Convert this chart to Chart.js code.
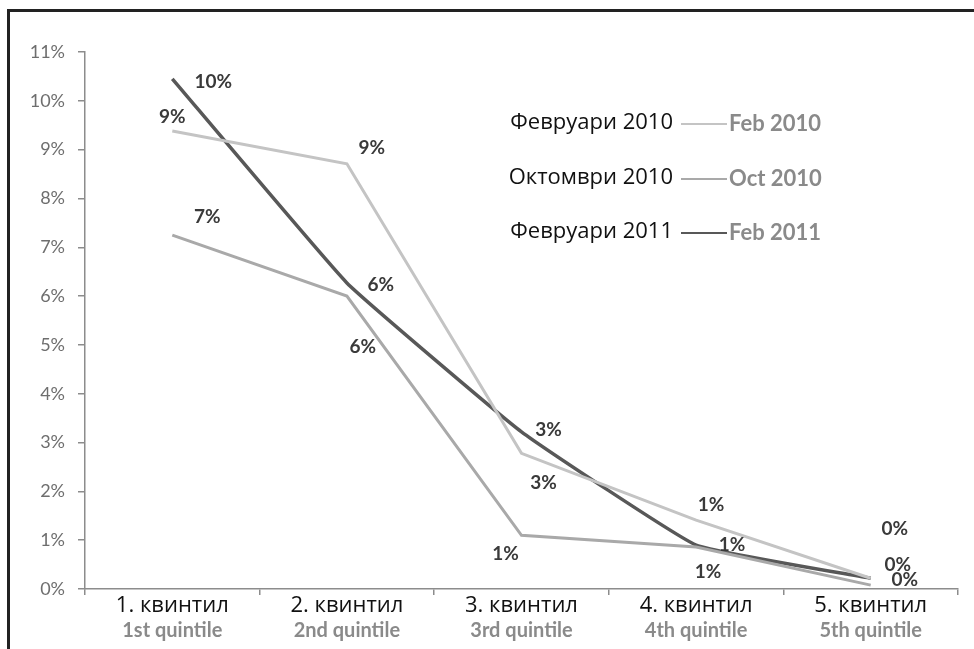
<!DOCTYPE html>
<html>
<head>
<meta charset="utf-8">
<script src="https://cdn.jsdelivr.net/npm/chart.js@4"></script>
<style>
  html, body { margin: 0; padding: 0; background: #fff; }
  #wrap { position: relative; width: 974px; height: 649px; }
</style>
</head>
<body>
<div id="wrap"><canvas id="kvintili"></canvas></div>
<script>
const kategoriiBg = ['1. квинтил', '2. квинтил', '3. квинтил', '4. квинтил', '5. квинтил'];
const kategoriiEn = ['1st quintile', '2nd quintile', '3rd quintile', '4th quintile', '5th quintile'];
const seriiBg = ['Февруари 2010', 'Октомври 2010', 'Февруари 2011'];
const seriiEn = ['Feb 2010', 'Oct 2010', 'Feb 2011'];

const feb2010 = [9.38, 8.71, 2.78, 1.41, 0.22];
const okt2010 = [7.25, 6.00, 1.10, 0.86, 0.08];
const feb2011 = [10.45, 6.27, 3.22, 0.90, 0.22];

const yTicks = [0, 1, 2, 3, 4, 5, 6, 7, 8, 9, 10, 11];

// colours and label placement (offset from the point, px)
const boi = ['#c4c4c4', '#a9a9a9', '#585858'];
const etiketi = [
  [[0, -14], [25, -16], [22, 30], [15, -15], [24, -49]],
  [[35, -18], [16, 51], [-16, 19], [12, 25], [27, -20]],
  [[41, 3], [34, 2], [27, -2], [36, 0], [34, 2]]
];

const tekstove = {
  id: 'tekstove',
  beforeDraw(chart) {
    const c = chart.ctx;
    c.save();
    c.fillStyle = '#fff';
    c.fillRect(0, 0, chart.width, chart.height);
    c.fillStyle = '#222';
    c.fillRect(7, 9, chart.width - 7, 3);
    c.fillRect(7, 9, 3, chart.height - 9);
    c.restore();
  },
  afterDraw(chart) {
    const c = chart.ctx;
    const x = chart.scales.x;
    const bottom = chart.chartArea.bottom;
    c.save();
    c.textAlign = 'center';
    c.textBaseline = 'middle';

    // category names, two lines
    kategoriiBg.forEach((k, i) => {
      const px = x.getPixelForValue(i);
      c.fillStyle = '#111';
      c.font = '22px "Open Sans"';
      c.fillText(k, px, bottom + 17);
      c.fillStyle = '#8a8a8a';
      c.font = 'bold 20px Lato';
      c.fillText(kategoriiEn[i], px, bottom + 42);
    });

    // value labels
    c.fillStyle = '#3a3a3a';
    c.font = 'bold 19px Lato';
    chart.data.datasets.forEach((ds, i) => {
      const meta = chart.getDatasetMeta(i);
      meta.data.forEach((pt, j) => {
        const o = etiketi[i][j];
        c.fillText(Math.round(ds.data[j]) + '%', pt.x + o[0], pt.y + o[1]);
      });
    });

    // legend
    const redove = [123, 178, 232];
    seriiBg.forEach((s, i) => {
      const y = redove[i];
      c.textAlign = 'right';
      c.fillStyle = '#111';
      c.font = '22px "Open Sans"';
      c.fillText(s, 673, y);
      c.strokeStyle = boi[i];
      c.lineWidth = 2;
      c.beginPath();
      c.moveTo(681, y + 1);
      c.lineTo(727, y + 1);
      c.stroke();
      c.textAlign = 'left';
      c.fillStyle = '#8a8a8a';
      c.font = 'bold 22px Lato';
      c.fillText(seriiEn[i], 729, y + 1);
    });
    c.restore();
  }
};

const ctx = document.getElementById('kvintili').getContext('2d');
new Chart(ctx, {
  type: 'line',
  data: {
    labels: kategoriiBg,
    datasets: [
      { label: seriiBg[0], data: feb2010, borderColor: boi[0], borderWidth: 3, pointRadius: 0, tension: 0 },
      { label: seriiBg[1], data: okt2010, borderColor: boi[1], borderWidth: 3, pointRadius: 0, tension: 0 },
      { label: seriiBg[2], data: feb2011, borderColor: boi[2], borderWidth: 3.5, pointRadius: 0, tension: 0.1 }
    ]
  },
  options: {
    responsive: true,
    maintainAspectRatio: false,
    animation: false,
    layout: { padding: { top: 52, right: 16, bottom: 0, left: 0 } },
    plugins: { legend: { display: false }, tooltip: { enabled: false } },
    scales: {
      x: {
        offset: true,
        grid: { offset: true, drawOnChartArea: false, tickLength: 6, color: '#8c8c8c', lineWidth: 1.5 },
        border: { color: '#8c8c8c', width: 1.5 },
        ticks: { display: false },
        afterFit(s) { s.height = 60; }
      },
      y: {
        min: yTicks[0],
        max: yTicks[yTicks.length - 1],
        afterBuildTicks(s) { s.ticks = yTicks.map(v => ({ value: v })); },
        grid: { drawOnChartArea: false, tickLength: 7, color: '#8c8c8c', lineWidth: 1.5 },
        border: { color: '#8c8c8c', width: 1.5 },
        ticks: {
          callback: v => v + '%',
          color: '#6e6e6e',
          font: { family: 'Lato', size: 18 },
          padding: 13
        },
        afterFit(s) { s.width = 85; }
      }
    }
  },
  plugins: [tekstove]
});
</script>
</body>
</html>
